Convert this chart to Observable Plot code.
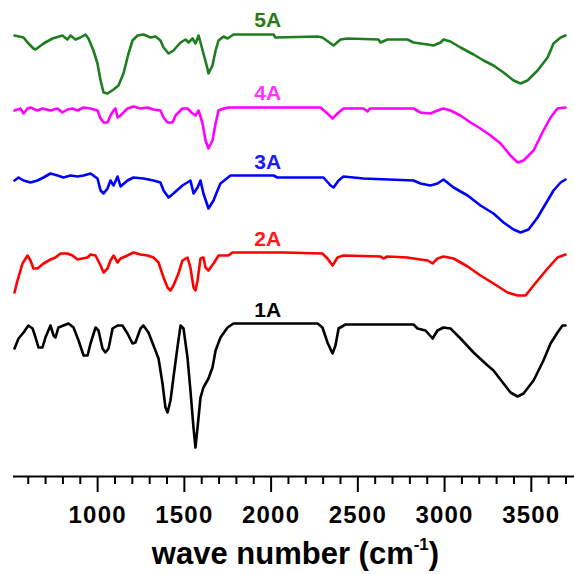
<!DOCTYPE html>
<html>
<head>
<meta charset="utf-8">
<script src="https://cdn.jsdelivr.net/npm/d3@7"></script>
<script src="https://cdn.jsdelivr.net/npm/@observablehq/plot@0.6"></script>
<style>
  html, body { margin: 0; padding: 0; background: #fff; }
  svg { display: block; }
</style>
</head>
<body>
<div id="chart"></div>
<script>
// Wave numbers (cm^-1) and stacked transmittance (arbitrary units, offset per sample)
const s5A = [[521,441],[573,439],[596,434],[630,428],[642,427],[688,433],[740,438],[797,441],[826,437],[844,441],[872,437],[901,439],[930,442],[947,438],[976,426],[999,413],[1017,396],[1034,384],[1057,383],[1092,387],[1120,391],[1149,403],[1178,423],[1201,436],[1230,441],[1264,442],[1305,439],[1334,440],[1362,436],[1380,429],[1409,423],[1437,426],[1478,434],[1507,437],[1524,434],[1547,438],[1564,433],[1582,441],[1593,434],[1610,423],[1633,408],[1639,403],[1662,411],[1680,426],[1697,436],[1726,440],[1749,438],[1766,440],[1783,442],[2014,442],[2025,439],[2268,440],[2296,439],[2360,431],[2400,437],[2441,438],[2619,437],[2631,434],[2671,437],[2786,437],[2821,434],[2902,432],[2936,431],[2977,434],[2994,437],[3034,435],[3092,429],[3167,422],[3225,416],[3282,411],[3340,404],[3398,396],[3438,393],[3478,396],[3536,406],[3594,419],[3628,433],[3669,439],[3697,441]];
const s4A = [[521,366],[555,368],[573,363],[596,368],[613,369],[653,366],[682,368],[728,366],[769,368],[797,364],[826,367],[855,368],[884,366],[919,369],[959,368],[999,366],[1017,358],[1034,354],[1057,354],[1074,361],[1092,366],[1103,368],[1115,359],[1132,361],[1172,368],[1207,370],[1247,368],[1288,369],[1322,367],[1362,366],[1380,359],[1403,354],[1432,354],[1449,361],[1489,368],[1518,368],[1547,363],[1564,361],[1582,366],[1605,353],[1622,336],[1639,328],[1662,336],[1680,353],[1697,366],[1726,368],[1754,369],[2285,369],[2325,363],[2354,358],[2383,363],[2417,368],[2533,368],[2556,365],[2570,368],[2821,368],[2861,364],[2919,363],[2959,366],[2994,368],[3034,366],[3092,361],[3150,354],[3207,348],[3265,341],[3323,333],[3380,321],[3421,314],[3455,316],[3513,326],[3570,346],[3611,359],[3651,368],[3697,369]];
const s3A = [[521,296],[544,299],[573,296],[613,294],[653,296],[688,299],[728,303],[769,301],[803,299],[844,301],[884,300],[919,301],[959,303],[999,298],[1017,286],[1034,283],[1057,288],[1074,296],[1092,291],[1115,300],[1132,290],[1172,296],[1207,299],[1264,298],[1322,296],[1362,294],[1380,286],[1409,279],[1437,283],[1489,291],[1535,296],[1553,283],[1576,289],[1593,296],[1610,283],[1639,268],[1668,276],[1691,286],[1708,293],[1766,301],[2014,301],[2037,299],[2302,299],[2343,291],[2360,289],[2389,296],[2417,300],[2533,298],[2821,296],[2861,293],[2919,291],[2959,293],[2994,297],[3052,289],[3133,281],[3207,271],[3282,263],[3340,254],[3398,247],[3438,244],[3484,247],[3536,259],[3594,276],[3628,286],[3669,294],[3697,297]];
const s2A = [[521,184],[538,196],[567,213],[596,221],[613,216],[630,208],[653,208],[688,213],[728,217],[757,219],[786,223],[826,223],[855,221],[884,217],[913,218],[942,219],[959,222],[988,221],[1017,211],[1034,204],[1057,208],[1074,216],[1092,221],[1115,214],[1132,218],[1172,221],[1207,224],[1247,222],[1288,221],[1322,219],[1351,214],[1380,199],[1403,189],[1420,186],[1437,191],[1466,203],[1489,216],[1518,219],[1535,209],[1553,189],[1564,186],[1576,196],[1593,218],[1610,219],[1622,209],[1639,206],[1668,213],[1697,221],[1754,221],[1777,224],[2072,224],[2296,223],[2325,218],[2354,211],[2383,219],[2417,221],[2631,220],[2648,218],[2671,220],[2786,219],[2821,218],[2902,216],[2931,213],[2959,218],[2994,220],[3052,218],[3133,210],[3207,201],[3282,193],[3363,184],[3421,181],[3467,181],[3513,191],[3594,208],[3651,219],[3697,222]];
const s1A = [[521,128],[544,138],[573,144],[601,151],[625,148],[642,139],[659,129],[682,129],[699,139],[728,151],[746,141],[757,139],[774,149],[803,151],[832,153],[861,149],[890,136],[919,121],[942,121],[959,133],[988,149],[1005,146],[1028,128],[1045,124],[1063,128],[1086,148],[1115,151],[1143,151],[1172,143],[1201,133],[1218,134],[1247,148],[1264,151],[1293,144],[1322,131],[1351,118],[1374,93],[1391,69],[1403,64],[1420,76],[1437,99],[1460,129],[1478,151],[1495,148],[1518,119],[1535,86],[1553,48],[1564,29],[1576,49],[1593,79],[1610,89],[1639,98],[1662,109],[1680,126],[1708,139],[1749,149],[1783,153],[2268,153],[2296,149],[2325,134],[2354,123],[2371,131],[2389,148],[2429,152],[2821,152],[2844,148],[2890,146],[2931,138],[2959,146],[2994,149],[3034,148],[3092,138],[3167,124],[3248,111],[3282,106],[3340,93],[3380,84],[3421,80],[3455,83],[3513,96],[3570,116],[3611,133],[3651,144],[3680,151],[3697,151]];

const sampleNames = ["5A", "4A", "3A", "2A", "1A"];
const sampleSeries = [s5A, s4A, s3A, s2A, s1A];
const sampleColors = ["#1e7d1e", "#ff00ff", "#0000ff", "#ff0000", "#000000"];
const labelColors = ["#2a7a14", "#ff33ff", "#1a1aff", "#ff1a1a", "#000000"];
// label anchor positions (wave number, transmittance a.u.)
const labelX = [1980, 1980, 1980, 1980, 1980];
const labelY = [456, 383, 314, 237, 166];

const majorTicks = [1000, 1500, 2000, 2500, 3000, 3500];
const minorTicks = d3.range(600, 3800, 100).filter(d => d % 500 !== 0);
const xDomain = [515, 3749];
const yDomain = [0, 476];

const rows = [];
sampleSeries.forEach((s, i) => s.forEach(([w, t]) => rows.push({sample: sampleNames[i], w, t})));
const labels = sampleNames.map((n, i) => ({n, x: labelX[i], y: labelY[i], c: labelColors[i]}));

const font = "Liberation Sans, Arial, Helvetica, sans-serif";

const chart = Plot.plot({
  width: 574,
  height: 574,
  marginLeft: 13,
  marginRight: 0,
  marginTop: 0,
  marginBottom: 98,
  style: {fontFamily: font, background: "#fff", overflow: "visible"},
  x: {domain: xDomain, axis: null},
  y: {domain: yDomain, axis: null},
  color: {domain: sampleNames, range: sampleColors},
  marks: [
    Plot.line(rows, {x: "w", y: "t", z: "sample", stroke: "sample", strokeWidth: 2.6, strokeLinejoin: "round", strokeLinecap: "round"}),
    Plot.text(labels, {x: "x", y: "y", text: "n", fill: "c", fontSize: 21, fontWeight: "bold", textAnchor: "middle", lineAnchor: "middle"}),
    Plot.ruleY([0], {stroke: "#000", strokeWidth: 2}),
    Plot.axisX(minorTicks, {tickSize: 8, tickFormat: () => "", strokeWidth: 2, stroke: "#000", label: null}),
    Plot.axisX(majorTicks, {tickSize: 16, tickPadding: 13, tickFormat: d => String(d), strokeWidth: 2, stroke: "#000", fill: "#000", fontSize: 24, fontWeight: "bold", label: null})
  ]
});

document.getElementById("chart").appendChild(chart);

const svg = d3.select(chart);
svg.selectAll('g[aria-label="x-axis tick label"] text').style("letter-spacing", "1.2px");
const xr = chart.scale("x").range;
const title = svg.append("text")
  .attr("x", (xr[0] + xr[1]) / 2 + 2)
  .attr("y", 564)
  .attr("text-anchor", "middle")
  .attr("font-family", font)
  .attr("font-weight", "bold")
  .attr("font-size", 31)
  .attr("fill", "#000");
title.append("tspan").text("wave number (cm");
title.append("tspan").attr("font-size", 17).attr("dy", -14).text("-1");
title.append("tspan").attr("dy", 14).text(")");
</script>
</body>
</html>
